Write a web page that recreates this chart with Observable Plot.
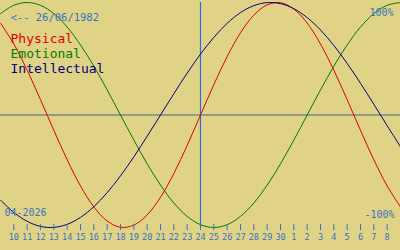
<!DOCTYPE html>
<html><head><meta charset="utf-8">
<script src="https://cdn.jsdelivr.net/npm/d3@7"></script>
<script src="https://cdn.jsdelivr.net/npm/@observablehq/plot@0.6"></script>
<style>html,body{margin:0;padding:0;background:#e1d385;}</style>
</head><body><div id="chart"></div>
<script>
// Days shown: 9 April 2026 .. 9 May 2026 (index 0..30)
const dayLabels = ["9","10","11","12","13","14","15","16","17","18","19","20","21","22","23","24","25","26","27","28","29","30","1","2","3","4","5","6","7","8","9"];
const tickIndex = [1,2,3,4,5,6,7,8,9,10,11,12,13,14,15,16,17,18,19,20,21,22,23,24,25,26,27,28,29];
const todayIndex = 15; // 24 April
const physical = [0.817,0.631,0.398,0.136,-0.136,-0.398,-0.631,-0.817,-0.942,-0.998,-0.979,-0.888,-0.731,-0.520,-0.270,0,0.270,0.520,0.731,0.888,0.979,0.998,0.942,0.817,0.631,0.398,0.136,-0.136,-0.398,-0.631,-0.817];
const emotional = [0.901,0.975,1,0.975,0.901,0.782,0.623,0.434,0.223,0,-0.223,-0.434,-0.623,-0.782,-0.901,-0.975,-1,-0.975,-0.901,-0.782,-0.623,-0.434,-0.223,0,0.223,0.434,0.623,0.782,0.901,0.975,1];
const intellectual = [-0.756,-0.866,-0.945,-0.990,-0.999,-0.972,-0.910,-0.815,-0.690,-0.541,-0.372,-0.189,0,0.189,0.372,0.541,0.690,0.815,0.910,0.972,0.999,0.990,0.945,0.866,0.756,0.618,0.458,0.282,0.095,-0.095,-0.282];
const seriesNames = ["Physical","Emotional","Intellectual"];
const seriesColors = ["#dd0000","#007a00","#000080"];
const birthText = "<-- 26/06/1982";
const monthText = "04-2026";
const topLabel = "100%";
const bottomLabel = "-100%";

const blue = "#3574c4";
const seriesValues = [physical, emotional, intellectual];
const rows = seriesValues.flatMap((vals, s) => vals.map((v, i) => ({series: seriesNames[s], i, v})));

const chart = Plot.plot({
  width: 400, height: 250,
  marginTop: 2, marginBottom: 23, marginLeft: 0, marginRight: 0,
  style: {background: "#e1d385", fontFamily: "DejaVu Sans Mono"},
  x: {domain: [0, 30], axis: null},
  y: {domain: [-1, 1], axis: null},
  color: {domain: seriesNames, range: seriesColors},
  marks: [
    Plot.ruleY([0], {stroke: "#3d6690", strokeWidth: 1}),
    Plot.ruleX([todayIndex], {stroke: "#2a6fd6", strokeWidth: 1.2}),
    Plot.line(rows, {x: "i", y: "v", z: "series", stroke: "series", strokeWidth: 1, curve: "catmull-rom"}),
    Plot.axisX(tickIndex, {label: null, tickFormat: i => dayLabels[i], tickSize: 6, tickPadding: 3, dy: -3, stroke: blue, fill: blue, fontSize: 8.5, fontFamily: "DejaVu Sans Mono"}),
    Plot.text([birthText], {text: d => d, frameAnchor: "top-left", dx: 10, dy: 15, textAnchor: "start", lineAnchor: "middle", fill: blue, fontSize: 10.5}),
    Plot.text([seriesNames[0]], {text: d => d, frameAnchor: "top-left", dx: 10, dy: 36, textAnchor: "start", lineAnchor: "middle", fill: seriesColors[0], fontSize: 13}),
    Plot.text([seriesNames[1]], {text: d => d, frameAnchor: "top-left", dx: 10, dy: 51, textAnchor: "start", lineAnchor: "middle", fill: seriesColors[1], fontSize: 13}),
    Plot.text([seriesNames[2]], {text: d => d, frameAnchor: "top-left", dx: 10, dy: 66, textAnchor: "start", lineAnchor: "middle", fill: seriesColors[2], fontSize: 13}),
    Plot.text([topLabel], {text: d => d, frameAnchor: "top-right", dx: -7, dy: 10, textAnchor: "end", lineAnchor: "middle", fill: blue, fontSize: 10}),
    Plot.text([bottomLabel], {text: d => d, frameAnchor: "bottom-right", dx: -6, dy: -13, textAnchor: "end", lineAnchor: "middle", fill: blue, fontSize: 10}),
    Plot.text([monthText], {text: d => d, frameAnchor: "bottom-left", dx: 4, dy: -15, textAnchor: "start", lineAnchor: "middle", fill: blue, fontSize: 10})
  ]
});
document.getElementById("chart").appendChild(chart);
</script>
</body></html>
